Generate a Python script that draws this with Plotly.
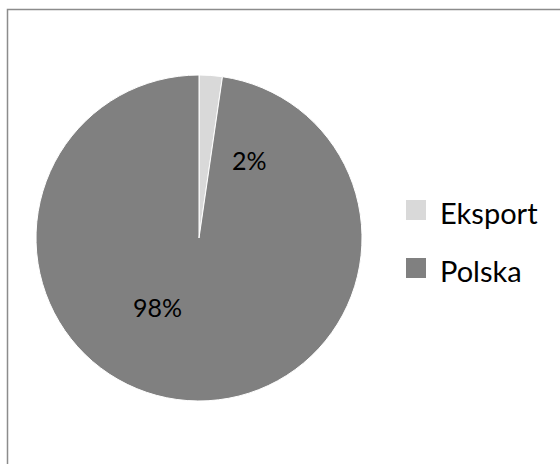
import plotly.graph_objects as go

labels = ["Eksport", "Polska"]
values = [2.3, 97.7]
colors = ["#d9d9d9", "#808080"]

W, H = 560, 464
FONT = "Lato"


def px(x):
    return x / W


def py(y):
    return 1 - y / H


fig = go.Figure()
fig.add_trace(go.Pie(
    labels=labels, values=values, sort=False, direction="clockwise", rotation=0,
    marker=dict(colors=colors, line=dict(color="white", width=1)),
    textinfo="none", hoverinfo="label+percent", showlegend=False,
    domain=dict(x=[px(36), px(362)], y=[py(401), py(75)]),
))

# data labels (percentages computed from the values)
total = sum(values)
pct = [f"{round(v / total * 100)}%" for v in values]
label_pos = [(249, 160), (157, 307)]
for t, (lx, ly) in zip(pct, label_pos):
    fig.add_annotation(x=px(lx), y=py(ly), xref="paper", yref="paper",
                       xanchor="center", yanchor="middle",
                       text=t, showarrow=False, font=dict(size=25, color="black", family=FONT))

# legend
leg_x, leg_y0, leg_dy, sq = 406, 200, 58, 20
for i, (lab, col) in enumerate(zip(labels, colors)):
    y0 = leg_y0 + i * leg_dy
    fig.add_shape(type="rect", xref="paper", yref="paper",
                  x0=px(leg_x), x1=px(leg_x + sq), y0=py(y0 + sq), y1=py(y0),
                  line=dict(width=0), fillcolor=col)
    fig.add_annotation(x=px(leg_x + 32), y=py(y0 + sq / 2 + 2), xref="paper", yref="paper",
                       xanchor="left", yanchor="middle", text=lab, showarrow=False,
                       font=dict(size=29, color="black", family=FONT))

# chart area border
fig.add_shape(type="rect", xref="paper", yref="paper",
              x0=px(7.5), x1=1.05, y0=-0.05, y1=py(9.5),
              line=dict(color="#8c8c8c", width=1.5), fillcolor="rgba(0,0,0,0)")

fig.update_layout(
    width=W, height=H, margin=dict(l=0, r=0, t=0, b=0),
    paper_bgcolor="white", plot_bgcolor="white",
    font=dict(family=FONT, size=22, color="black"),
    showlegend=False,
)
fig.write_html("out.html", config={"displayModeBar": False},
               post_script="document.body.style.margin='0px';")
